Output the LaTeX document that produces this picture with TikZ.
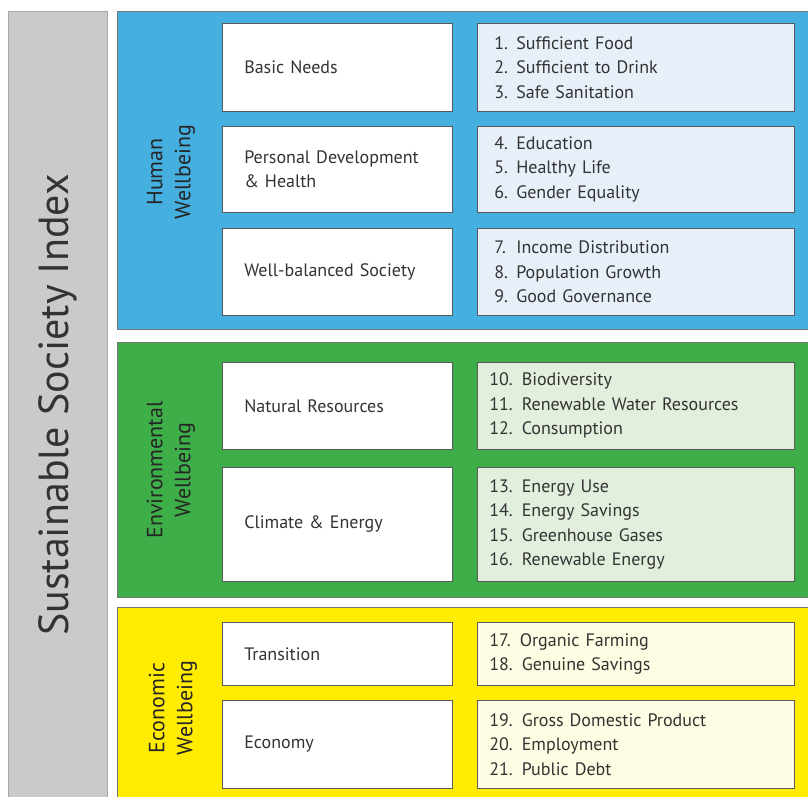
\documentclass[tikz,border=0pt]{standalone}
\usepackage{fontspec}
\setmainfont{PT Sans}
\usepackage{tikz}

\definecolor{ssigray}{HTML}{C9CACC}
\definecolor{ssiblue}{HTML}{45AFDF}
\definecolor{ssigreen}{HTML}{3EAE48}
\definecolor{ssiyellow}{HTML}{FFEC00}
\definecolor{paleblue}{HTML}{E7F0F8}
\definecolor{palegreen}{HTML}{E2EFDD}
\definecolor{paleyellow}{HTML}{FEFCE2}
\definecolor{inkgray}{HTML}{333333}

\newcommand{\nitem}[2]{\makebox[22pt][l]{#1.}#2}
\newcommand{\ditem}[2]{\hspace*{-5pt}#1. #2}

\begin{document}
\begin{tikzpicture}[x=1pt, y=-1pt,
  every node/.style = {anchor=north west, inner sep=0pt, text=inkgray,
    font=\fontsize{18}{24.5}\selectfont}]
    \tikzstyle{panel}=[draw=black!55, line width=0.7pt]
    \tikzstyle{topic}=[draw=black!65, fill=white, line width=0.6pt,
      align=left, text width=186pt, inner xsep=22pt]
    \tikzstyle{items}=[draw=black!65, line width=0.6pt,
      align=left, text width=283pt, inner xsep=17pt]
    \tikzstyle{side}=[anchor=center, rotate=90, align=center, text=black!85,
      font=\fontsize{22}{28}\selectfont]

  \useasboundingbox (0,0) rectangle (808,796);
  \clip (0,0) rectangle (808,796);

  \node[panel, draw=black!35, fill=ssigray, minimum width=99pt, minimum height=800pt] (index) at (8,11) {};
  \node[anchor=center, rotate=90, text=black!80, font=\fontsize{42}{42}\selectfont] (title) at (58,405) {Sustainable Society Index};

  \node[panel, fill=ssiblue, minimum width=700pt, minimum height=318pt] (human) at (117,11) {};
  \node[panel, fill=ssigreen, minimum width=700pt, minimum height=255pt] (env) at (117,342) {};
  \node[panel, fill=ssiyellow, minimum width=700pt, minimum height=200pt] (eco) at (117,607) {};

  \node[side] (humanlabel) at (171,172) {Human\\Wellbeing};
  \node[side] (envlabel) at (171,470) {Environmental\\Wellbeing};
  \node[side] (ecolabel) at (173,708) {Economic\\Wellbeing};

  \node[topic, minimum height=88pt] (basic) at (222,23) {Basic Needs};
  \node[topic, minimum height=86pt] (personal) at (222,126) {Personal Development\\\& Health};
  \node[topic, minimum height=87pt] (society) at (222,228) {Well-balanced Society};
  \node[topic, minimum height=87pt] (natural) at (222,362) {Natural Resources};
  \node[topic, minimum height=114pt] (climate) at (222,467) {Climate \& Energy};
  \node[topic, minimum height=63pt] (transition) at (222,622) {Transition};
  \node[topic, minimum height=88pt] (economy) at (222,700) {Economy};

  \node[items, fill=paleblue, minimum height=88pt] (basicitems) at (477,23)
    {\nitem{1}{Sufficient Food}\\\nitem{2}{Sufficient to Drink}\\\nitem{3}{Safe Sanitation}};
  \node[items, fill=paleblue, minimum height=86pt] (personalitems) at (477,126)
    {\nitem{4}{Education}\\\nitem{5}{Healthy Life}\\\nitem{6}{Gender Equality}};
  \node[items, fill=paleblue, minimum height=87pt] (societyitems) at (477,228)
    {\nitem{7}{Income Distribution}\\\nitem{8}{Population Growth}\\\nitem{9}{Good Governance}};
  \node[items, fill=palegreen, minimum height=87pt] (naturalitems) at (477,362)
    {\ditem{10}{Biodiversity}\\\ditem{11}{Renewable Water Resources}\\\ditem{12}{Consumption}};
  \node[items, fill=palegreen, minimum height=114pt] (climateitems) at (477,467)
    {\ditem{13}{Energy Use}\\\ditem{14}{Energy Savings}\\\ditem{15}{Greenhouse Gases}\\\ditem{16}{Renewable Energy}};
  \node[items, fill=paleyellow, minimum height=63pt] (transitionitems) at (477,622)
    {\ditem{17}{Organic Farming}\\\ditem{18}{Genuine Savings}};
  \node[items, fill=paleyellow, minimum height=88pt] (economyitems) at (477,700)
    {\ditem{19}{Gross Domestic Product}\\\ditem{20}{Employment}\\\ditem{21}{Public Debt}};
\end{tikzpicture}
\end{document}
